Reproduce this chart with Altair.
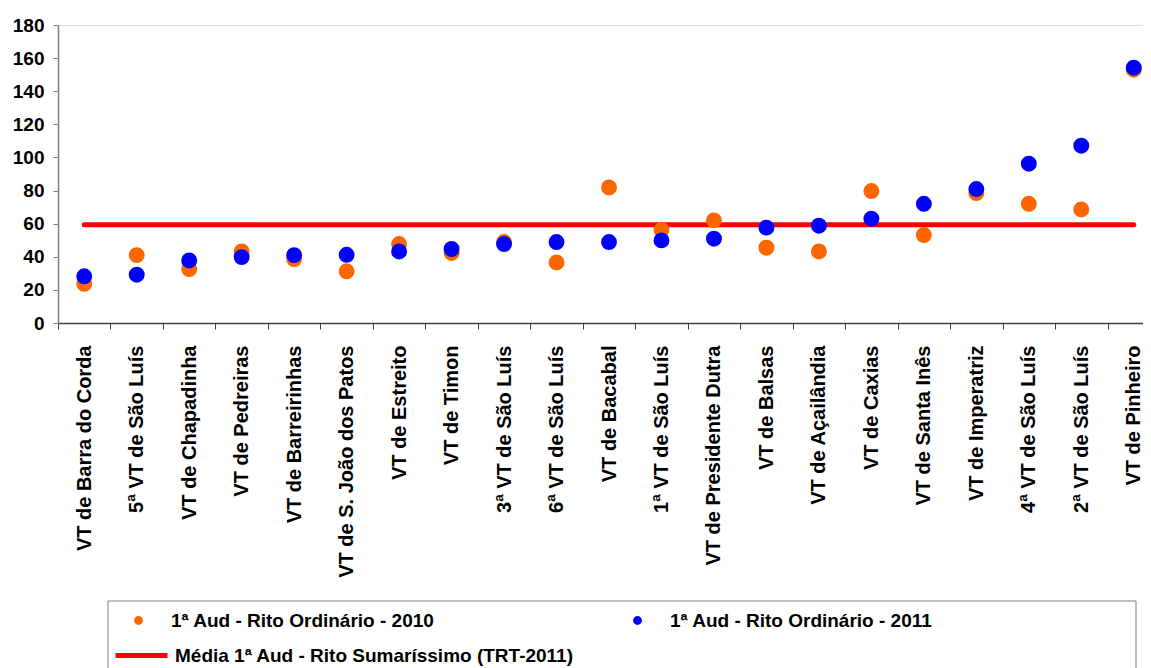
import altair as alt
import pandas as pd

# ---- data ----
varas = [
    "VT de Barra do Corda", "5ª VT de São Luís", "VT de Chapadinha", "VT de Pedreiras",
    "VT de Barreirinhas", "VT de S. João dos Patos", "VT de Estreito", "VT de Timon",
    "3ª VT de São Luís", "6ª VT de São Luís", "VT de Bacabal", "1ª VT de São Luís",
    "VT de Presidente Dutra", "VT de Balsas", "VT de Açailândia", "VT de Caxias",
    "VT de Santa Inês", "VT de Imperatriz", "4ª VT de São Luís", "2ª VT de São Luís",
    "VT de Pinheiro",
]
ord_2010 = [23.7, 41.0, 32.6, 43.2, 38.6, 31.2, 47.7, 42.3, 48.9, 36.6, 81.9,
            56.3, 62.0, 45.5, 43.2, 79.7, 53.1, 78.5, 72.0, 68.6, 153.0]
ord_2011 = [28.2, 29.2, 37.8, 39.8, 41.0, 41.2, 43.2, 44.7, 47.7, 48.9, 48.9,
            49.9, 50.9, 57.6, 58.8, 63.0, 72.0, 80.9, 96.2, 107.1, 154.2]
media_sumarissimo = 59.4

lbl_2010 = "1ª Aud - Rito Ordinário - 2010"
lbl_2011 = "1ª Aud - Rito Ordinário - 2011"
lbl_media = "Média 1ª Aud - Rito Sumaríssimo (TRT-2011)"

d10 = pd.DataFrame({"vara": varas, "valor": ord_2010, "serie": lbl_2010})
d11 = pd.DataFrame({"vara": varas, "valor": ord_2011, "serie": lbl_2011})
dm = pd.DataFrame({"vara": varas, "valor": [media_sumarissimo] * len(varas), "serie": lbl_media})

FONT = "Liberation Sans, Arial, sans-serif"

x_enc = alt.X(
    "vara:N", sort=varas,
    scale=alt.Scale(type="band", range=[0, 1102], paddingInner=0, paddingOuter=0),
    axis=alt.Axis(title=None, labelAngle=-90, labelFont=FONT, labelFontSize=20,
                  labelFontWeight="bold", labelColor="black", tickBand="extent",
                  tickSize=6, tickColor="#404040", domainColor="#404040", domainWidth=1.5,
                  labelPadding=16, labelLimit=400, grid=False),
)
y_enc = alt.Y(
    "valor:Q",
    scale=alt.Scale(domain=[0, 180], nice=False),
    axis=alt.Axis(title=None, values=list(range(0, 181, 20)), labelFont=FONT,
                  labelFontSize=19, labelFontWeight="bold", labelColor="black",
                  tickSize=5, tickColor="#808080", domainColor="#808080", domainWidth=1.5,
                  labelPadding=9, grid=False),
)

def leg(x, y, **kw):
    return alt.Legend(title=None, orient="none", legendX=x, legendY=y, padding=0,
                      labelFont=FONT, labelFontSize=19, labelFontWeight="bold",
                      labelColor="black", labelLimit=600, **kw)

linha = alt.Chart(dm).mark_line(strokeWidth=5, strokeCap="round").encode(
    x=x_enc, y=y_enc,
    color=alt.Color("serie:N", scale=alt.Scale(domain=[lbl_media], range=["#FF0000"]),
                    legend=leg(55, 602, symbolType="stroke", symbolSize=2704,
                               symbolStrokeWidth=5, labelOffset=5)),
)
p10 = alt.Chart(d10).mark_circle(size=254, opacity=1).encode(
    x=x_enc, y=y_enc,
    color=alt.Color("serie:N", scale=alt.Scale(domain=[lbl_2010], range=["#FF6600"]),
                    legend=leg(71, 586, symbolType="circle", symbolSize=78, labelOffset=23)),
)
p11 = alt.Chart(d11).mark_circle(size=254, opacity=1).encode(
    x=x_enc, y=y_enc,
    color=alt.Color("serie:N", scale=alt.Scale(domain=[lbl_2011], range=["#0000FF"]),
                    legend=leg(570, 586, symbolType="circle", symbolSize=78, labelOffset=23)),
)
moldura = alt.Chart(pd.DataFrame({"k": [0]})).mark_rect(
    fillOpacity=0, stroke="#808080", strokeWidth=1
).encode(x=alt.value(50), x2=alt.value(1078), y=alt.value(576), y2=alt.value(660))

chart = alt.layer(moldura, linha, p10, p11).resolve_scale(color="independent").properties(
    width=1085, height=298,
    autosize=alt.AutoSizeParams(type="none"),
    padding={"left": 50, "top": 17, "right": 0, "bottom": 345},
).configure_view(stroke=None).configure(background="white")

chart.save("out.html", embed_options={"renderer": "svg", "actions": False})
